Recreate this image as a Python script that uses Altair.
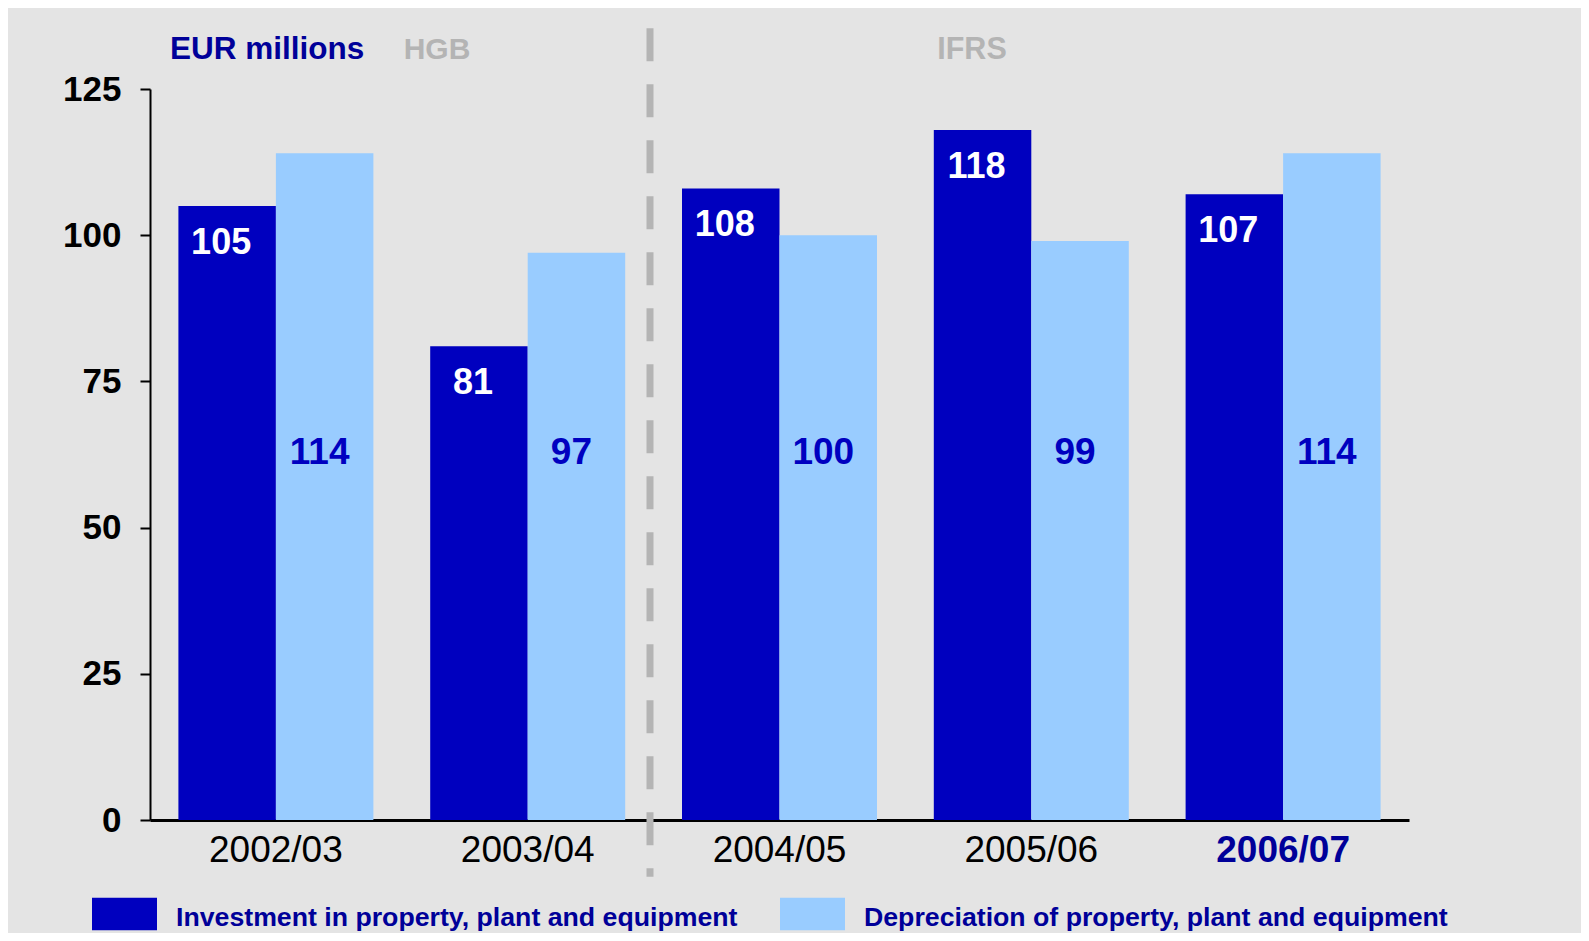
import altair as alt
import pandas as pd

# ---- data ----
years = ["2002/03", "2003/04", "2004/05", "2005/06", "2006/07"]
investment = [105, 81, 108, 118, 107]
depreciation = [114, 97, 100, 99, 114]
series_names = [
    "Investment in property, plant and equipment",
    "Depreciation of property, plant and equipment",
]
y_ticks = [0, 25, 50, 75, 100, 125]
header_text = "EUR millions"
period_labels = ["HGB", "IFRS"]

rows = []
for i, yr in enumerate(years):
    rows.append({"year": yr, "series": series_names[0], "value": investment[i]})
    rows.append({"year": yr, "series": series_names[1], "value": depreciation[i]})
df = pd.DataFrame(rows)
one = pd.DataFrame({"k": [0]})

FONT = "Liberation Sans"
DARK = "#0000BF"
LIGHT = "#99CCFF"
NAVY = "#000099"
LABEL_BLUE = "#0000C0"
GRAY = "#B4B4B4"
BG = "#E4E4E4"

x_enc = alt.X(
    "year:N",
    sort=years,
    scale=alt.Scale(paddingInner=0.2256, paddingOuter=0.1128),
    axis=alt.Axis(
        title=None,
        labelAngle=0,
        ticks=False,
        domainColor="black",
        domainWidth=3,
        labelFont=FONT,
        labelFontSize=37,
        labelPadding=12,
        labelColor={"condition": {"test": "datum.value === '2006/07'", "value": NAVY}, "value": "black"},
        labelFontWeight={"condition": {"test": "datum.value === '2006/07'", "value": "bold"}, "value": "normal"},
    ),
)
xo_enc = alt.XOffset("series:N", sort=series_names, scale=alt.Scale(paddingInner=0, paddingOuter=0))
y_scale = alt.Scale(domain=[0, 125], nice=False, zero=True)
y_enc = alt.Y(
    "value:Q",
    scale=y_scale,
    axis=alt.Axis(
        title=None,
        values=y_ticks,
        grid=False,
        domainColor="black",
        domainWidth=2,
        tickColor="black",
        tickWidth=2,
        tickSize=10,
        labelFont=FONT,
        labelFontSize=35,
        labelFontWeight="bold",
        labelColor="black",
        labelPadding=19,
    ),
)

bars = alt.Chart(df).mark_bar(stroke=None).encode(
    x=x_enc,
    xOffset=xo_enc,
    y=y_enc,
    color=alt.Color(
        "series:N",
        sort=series_names,
        scale=alt.Scale(domain=series_names, range=[DARK, LIGHT]),
        legend=alt.Legend(
            title=None,
            orient="none",
            direction="horizontal",
            legendX=-58,
            legendY=796,
            padding=0,
            symbolType="M-1,-0.623H1V0.377H-1Z",
            symbolSize=4225,
            symbolStrokeWidth=0,
            symbolOpacity=1,
            labelFont=FONT,
            labelFontSize=26.7,
            labelFontWeight="bold",
            labelColor=NAVY,
            labelOffset=19,
            labelLimit=2000,
            columnPadding=42,
        ),
    ),
)

inv_labels = alt.Chart(df).transform_filter(
    alt.datum.series == series_names[0]
).mark_text(
    font=FONT, fontSize=36, fontWeight="bold", color="white", baseline="middle", dy=37, dx=-6
).encode(x=x_enc, xOffset=xo_enc, y=y_enc, text=alt.Text("value:Q"))

dep_labels = alt.Chart(df).transform_filter(
    alt.datum.series == series_names[1]
).mark_text(
    font=FONT, fontSize=37, fontWeight="bold", color=LABEL_BLUE, baseline="middle", dy=1, dx=-5
).encode(x=x_enc, xOffset=xo_enc, y=alt.datum(63), text=alt.Text("value:Q"))

separator = alt.Chart(one).mark_rule(
    color=GRAY, strokeWidth=7, strokeDash=[33, 23]
).encode(x=alt.value(500), y=alt.datum(135.4), y2=alt.datum(-9.7))

header = alt.Chart(one).mark_text(
    font=FONT, fontSize=31.5, fontWeight="bold", color=NAVY, align="left", baseline="middle"
).encode(x=alt.value(20), y=alt.value(-39), text=alt.value(header_text))

hgb = alt.Chart(one).mark_text(
    font=FONT, fontSize=30, fontWeight="bold", color=GRAY, align="center", baseline="middle"
).encode(x=alt.value(287), y=alt.value(-39), text=alt.value(period_labels[0]))

ifrs = alt.Chart(one).mark_text(
    font=FONT, fontSize=30.5, fontWeight="bold", color=GRAY, align="center", baseline="middle"
).encode(x=alt.value(822), y=alt.value(-39), text=alt.value(period_labels[1]))

chart = alt.layer(
    bars, inv_labels, dep_labels, separator, header, hgb, ifrs
).properties(
    width=1259,
    height=731,
    background=BG,
    padding={"left": 142, "top": 81, "right": 172, "bottom": 113},
    autosize=alt.AutoSizeParams(type="none"),
).configure_view(stroke=None)

chart.save("out.html", embed_options={"renderer": "svg", "actions": False})
